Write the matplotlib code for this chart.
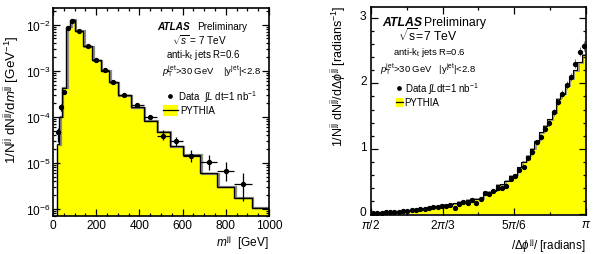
import numpy as np
import matplotlib
matplotlib.use("Agg")
import matplotlib.pyplot as plt
from matplotlib.patches import Rectangle
from matplotlib.ticker import LogLocator, NullFormatter, MultipleLocator, FixedLocator
import matplotlib.transforms as mtransforms

# ============================================================
# Data
# ============================================================
# dijet mass spectrum
mjj_edges = [20, 30, 40, 60, 80, 100, 140, 180, 220, 260, 300, 360, 420, 480,
             540, 600, 680, 760, 840, 920, 1000]
mjj_pythia = [2.5e-5, 1.0e-4, 4.3e-4, 9.0e-3, 1.27e-2, 7.4e-3, 3.4e-3, 1.7e-3,
              1.0e-3, 5.6e-4, 2.9e-4, 1.6e-4, 8.2e-5, 4.7e-5, 2.3e-5, 1.5e-5,
              6.0e-6, 3.0e-6, 1.75e-6, 1.05e-6]
mjj_data = [4.6e-5, 1.6e-4, 3.4e-4, 8.3e-3, 1.18e-2, 7.4e-3, 3.5e-3, 1.7e-3,
            1.02e-3, 5.6e-4, 2.9e-4, 1.76e-4, 1.0e-4, 3.9e-5, 2.9e-5, 1.4e-5,
            1.05e-5, 6.8e-6, 3.4e-6]
mjj_err_lo = [1.8e-5, 2.5e-5, 3e-5, 4e-4, 6e-4, 3e-4, 1.5e-4, 8e-5,
              5e-5, 3e-5, 1.6e-5, 1.4e-5, 9e-6, 7e-6, 6e-6, 3.5e-6,
              3.5e-6, 2.8e-6, 1.9e-6]
mjj_err_hi = [1.0e-5, 2.5e-5, 3e-5, 4e-4, 6e-4, 3e-4, 1.5e-4, 8e-5,
              5e-5, 3e-5, 1.6e-5, 1.6e-5, 1.1e-5, 1.2e-5, 7e-6, 4.5e-6,
              4e-6, 3.5e-6, 2.6e-6]

# azimuthal decorrelation, 50 bins of pi/100 between pi/2 and pi
n_dphi = 50
dphi_data = [0.02, 0.02, 0.025, 0.03, 0.03, 0.035, 0.04, 0.045, 0.05, 0.06,
             0.07, 0.075, 0.075, 0.10, 0.11, 0.11, 0.12, 0.13, 0.15, 0.09,
             0.16, 0.19, 0.17, 0.22, 0.18, 0.23, 0.33, 0.31, 0.36, 0.40,
             0.40, 0.44, 0.54, 0.59, 0.68, 0.72, 0.86, 0.95, 1.10, 1.18,
             1.30, 1.40, 1.56, 1.72, 1.84, 1.97, 2.10, 2.30, 2.48, 2.57]
dphi_pythia = [0.025, 0.025, 0.03, 0.03, 0.035, 0.04, 0.045, 0.05, 0.055, 0.06,
               0.07, 0.08, 0.09, 0.10, 0.11, 0.13, 0.15, 0.15, 0.16, 0.17,
               0.19, 0.20, 0.22, 0.24, 0.24, 0.24, 0.34, 0.34, 0.36, 0.45,
               0.46, 0.51, 0.59, 0.60, 0.72, 0.80, 0.89, 1.00, 1.12, 1.25,
               1.35, 1.45, 1.55, 1.76, 1.84, 1.96, 2.08, 2.20, 2.32, 2.44]

YELLOW = "#ffff00"

plt.rcParams["font.family"] = ["Liberation Sans", "DejaVu Sans"]
plt.rcParams["mathtext.fontset"] = "custom"
plt.rcParams["mathtext.rm"] = "Liberation Sans"
plt.rcParams["mathtext.it"] = "Liberation Sans:italic"
plt.rcParams["mathtext.bf"] = "Liberation Sans:bold"


def root_style(ax):
    ax.tick_params(which="both", direction="in", top=True, right=True,
                   labelsize=8.6, width=0.9, pad=2)
    ax.tick_params(which="major", length=5)
    ax.tick_params(which="minor", length=2.5)
    for sp in ax.spines.values():
        sp.set_linewidth(1.2)


def shadow(ax, dx=1.2):
    return mtransforms.offset_copy(ax.transData, fig=ax.figure, x=dx, y=-dx * 0.3,
                                   units="points")


fig = plt.figure(figsize=(5.99, 2.55), dpi=100)

# ------------------------------------------------------------
# Left: dijet mass
# ------------------------------------------------------------
ax1 = fig.add_axes([0.0885, 0.149, 0.3606, 0.816])
edges = np.array(mjj_edges, dtype=float)
ax1.stairs(mjj_pythia, edges, fill=True, color=YELLOW, baseline=1e-7, lw=0)
ax1.stairs(mjj_pythia, edges, color="0.55", lw=1.6, baseline=None,
           transform=shadow(ax1))
ax1.stairs(mjj_pythia, edges, color="black", lw=1.0, baseline=None)
ax1.vlines(edges[0], 1e-7, mjj_pythia[0], color="black", lw=1.0)

centers = 0.5 * (edges[1:] + edges[:-1])
half = 0.5 * (edges[1:] - edges[:-1])
nd = len(mjj_data)
ax1.errorbar(centers[:nd], mjj_data, xerr=half[:nd],
             yerr=[mjj_err_lo, mjj_err_hi], fmt="o", ms=2.8, color="black",
             elinewidth=0.9, capsize=0)

ax1.set_yscale("log")
ax1.set_xlim(0, 1000)
ax1.set_ylim(7e-7, 2.3e-2)
ax1.xaxis.set_major_locator(MultipleLocator(200))
ax1.xaxis.set_minor_locator(MultipleLocator(50))
ax1.yaxis.set_major_locator(LogLocator(base=10))
ax1.yaxis.set_minor_locator(LogLocator(base=10, subs=np.arange(2, 10)))
ax1.yaxis.set_minor_formatter(NullFormatter())
root_style(ax1)

t = ax1.transAxes
ax1.text(0.484, 0.915, "ATLAS", transform=t, fontsize=7.2, weight="bold",
         style="italic", va="center")
ax1.text(0.665, 0.915, "Preliminary", transform=t, fontsize=7.2, va="center")
ax1.text(0.68, 0.85, r"$\sqrt{s}$ = 7 TeV", transform=t, fontsize=7.2,
         ha="center", va="center")
ax1.text(0.694, 0.779, r"anti-k$_{\mathrm{t}}$ jets R=0.6", transform=t,
         fontsize=7.0, ha="center", va="center")
ax1.text(0.505, 0.702,
         r"$p_{\mathrm{T}}^{\mathrm{jet}}$>30 GeV    |y$^{\mathrm{jet}}$|<2.8",
         transform=t, fontsize=6.8, va="center")
ax1.plot([0.542], [0.575], "o", ms=2.4, color="black", transform=t,
         clip_on=False)
ax1.text(0.58, 0.575, r"Data  $\int$$L$ dt=1 nb$^{-1}$", transform=t,
         fontsize=7.0, va="center")
ax1.add_patch(Rectangle((0.509, 0.48), 0.07, 0.055, transform=t,
                        facecolor=YELLOW, edgecolor="none"))
ax1.plot([0.509, 0.579], [0.5075, 0.5075], color="black", lw=0.9, transform=t)
ax1.text(0.587, 0.5075, "PYTHIA", transform=t, fontsize=7.0, va="center")

fig.text(0.02, 0.608,
         r"1/N$^{\mathrm{jj}}$ dN$^{\mathrm{jj}}$/d$m^{\mathrm{jj}}$ [GeV$^{-1}$]",
         rotation=90, ha="center", va="center", fontsize=9.6)
fig.text(0.449, 0.047, r"$m^{\mathrm{jj}}$  [GeV]", ha="right", va="center",
         fontsize=8.6)

# ------------------------------------------------------------
# Right: delta phi
# ------------------------------------------------------------
ax2 = fig.add_axes([0.619, 0.153, 0.3594, 0.814])
phi_edges = np.linspace(np.pi / 2, np.pi, n_dphi + 1)
phi_c = 0.5 * (phi_edges[1:] + phi_edges[:-1])
ax2.stairs(dphi_pythia, phi_edges, fill=True, color=YELLOW, lw=0)
ax2.stairs(dphi_pythia, phi_edges, color="0.6", lw=1.3, baseline=None,
           transform=shadow(ax2, 0.9))
ax2.stairs(dphi_pythia, phi_edges, color="black", lw=0.8, baseline=None)
ax2.errorbar(phi_c, dphi_data, yerr=0.02 + 0.02 * np.array(dphi_data),
             fmt="o", ms=2.8, color="black", ecolor="0.45", elinewidth=0.7,
             capsize=0)

ax2.set_xlim(np.pi / 2, np.pi)
ax2.set_ylim(-0.01, 3.16)
ax2.xaxis.set_major_locator(FixedLocator([np.pi / 2, 2 * np.pi / 3,
                                          5 * np.pi / 6, np.pi]))
ax2.xaxis.set_minor_locator(MultipleLocator(np.pi / 12))
ax2.set_xticklabels([r"$\pi$/2", r"2$\pi$/3", r"5$\pi$/6", r"$\pi$"])
ax2.yaxis.set_major_locator(MultipleLocator(1))
ax2.yaxis.set_minor_locator(MultipleLocator(0.2))
root_style(ax2)
ax2.tick_params(axis="x", pad=2.5)
ax2.tick_params(axis="y", pad=3)
# lift the y labels a touch so "0" clears the pi/2 label below it
lift = mtransforms.ScaledTranslation(0, 2.5 / 72, fig.dpi_scale_trans)
for lbl in ax2.get_yticklabels():
    lbl.set_transform(lbl.get_transform() + lift)

t = ax2.transAxes
ax2.text(0.051, 0.931, "ATLAS", transform=t, fontsize=8.8, weight="bold",
         style="italic", va="center")
ax2.text(0.248, 0.931, "Preliminary", transform=t, fontsize=8.8, va="center")
ax2.text(0.267, 0.87, r"$\sqrt{\mathrm{s}}$=7 TeV", transform=t, fontsize=8.8,
         ha="center", va="center")
ax2.text(0.27, 0.786, r"anti-k$_{\mathrm{t}}$ jets R=0.6", transform=t,
         fontsize=6.8, ha="center", va="center")
ax2.text(0.043, 0.71,
         r"$p_{\mathrm{T}}^{\mathrm{jet}}$>30 GeV   |y$^{\mathrm{jet}}$|<2.8",
         transform=t, fontsize=6.8, va="center")
ax2.plot([0.133], [0.612], "o", ms=2.4, color="black", transform=t,
         clip_on=False)
ax2.text(0.158, 0.612, r"Data $\int$$L$dt=1 nb$^{-1}$", transform=t,
         fontsize=7.0, va="center")
ax2.add_patch(Rectangle((0.118, 0.52), 0.03, 0.045, transform=t,
                        facecolor=YELLOW, edgecolor="none"))
ax2.plot([0.118, 0.148], [0.5425, 0.5425], color="black", lw=0.9, transform=t)
ax2.text(0.156, 0.5425, "PYTHIA", transform=t, fontsize=7.0, va="center")

fig.text(0.566, 0.70,
         r"1/N$^{\mathrm{jj}}$ dN$^{\mathrm{jj}}$/d$\Delta\phi^{\mathrm{jj}}$ [radians$^{-1}$]",
         rotation=90, ha="center", va="center", fontsize=9.0)
fig.text(0.978, 0.037, r"/$\Delta\phi^{\mathrm{jj}}$/ [radians]", ha="right",
         va="center", fontsize=8.4)

fig.savefig("out.png", dpi=100)
